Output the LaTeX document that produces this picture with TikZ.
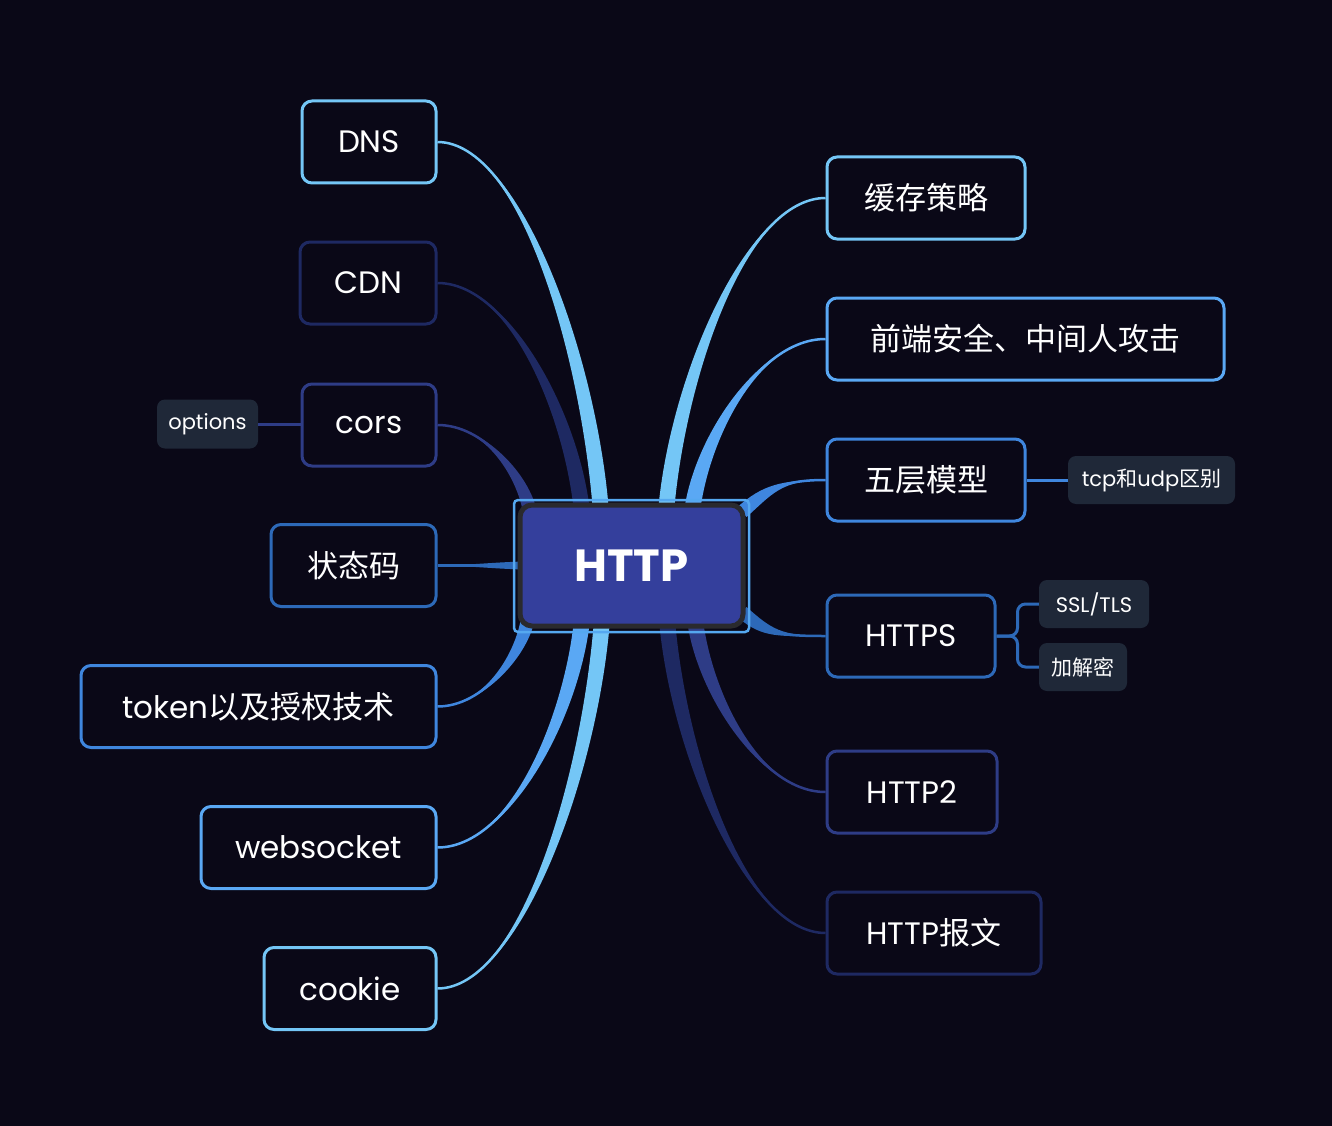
\documentclass[tikz,border=0pt]{standalone}
\usepackage{fontspec}
\setmainfont{Poppins}
\newfontfamily\cjk{Noto Sans CJK SC}
\usetikzlibrary{calc}
\definecolor{bg}{HTML}{0A0817}
\definecolor{cA}{HTML}{74C6F6}
\definecolor{cB}{HTML}{5AA8F4}
\definecolor{cC}{HTML}{3F86DE}
\definecolor{cD}{HTML}{2D69B8}
\definecolor{cE}{HTML}{2E3C86}
\definecolor{cF}{HTML}{1E2962}
\definecolor{subfill}{HTML}{1F2838}
\definecolor{rootfill}{HTML}{343F9C}
\definecolor{rootedge}{HTML}{2A2A2E}
\definecolor{rootframe}{HTML}{55A8F0}
\newcommand\tbranch[6]{%
  \fill[#1] (#2) .. controls ($(#2)+(#3)$) and ($(#4)+(#5)+(#6)$) .. ($(#4)+(#6)$)
    -- ($(#4)-(#6)$) .. controls ($(#4)+(#5)-(#6)$) and ($(#2)+(#3)$) .. (#2) -- cycle;
  \draw[#1,line width=2.5pt] (#2) .. controls +(#3) and +(#5) .. (#4);}
\begin{document}
\begin{tikzpicture}[x=1pt,y=-1pt,
  topic/.style={draw, line width=3pt, rounded corners=10pt, fill=bg, text=white,
    minimum height=82pt, inner sep=0pt, font=\fontsize{31}{36}\selectfont},
  sub/.style={fill=subfill, rounded corners=8pt, text=white, minimum height=48pt,
    inner sep=0pt, font=\fontsize{21}{26}\selectfont},
  subline/.style={line width=3pt}]
\fill[bg] (0,0) rectangle (1332,1126);
\useasboundingbox (0,0) rectangle (1332,1126);

% topics left
\node[topic, draw=cA, minimum width=134pt] (dns) at (369,142) {DNS};
\node[topic, draw=cF, minimum width=136pt] (cdn) at (368,283) {CDN};
\node[topic, draw=cE, minimum width=134pt] (cors) at (369,425) {cors};
\node[topic, draw=cD, minimum width=165pt] (ztm) at (353.5,565.5) {\cjk 状态码};
\node[topic, draw=cC, minimum width=355pt] (token) at (258.5,706.5) {token{\cjk 以及授权技术}};
\node[topic, draw=cB, minimum width=235pt] (ws) at (318.5,847.5) {websocket};
\node[topic, draw=cA, minimum width=172pt] (cookie) at (350,988.5) {cookie};
% topics right
\node[topic, draw=cA, minimum width=198pt] (hc) at (926,198) {\cjk 缓存策略};
\node[topic, draw=cB, minimum width=397pt] (qd) at (1025.5,339) {\cjk 前端安全、中间人攻击};
\node[topic, draw=cC, minimum width=198pt] (wc) at (926,480) {\cjk 五层模型};
\node[topic, draw=cD, minimum width=168pt] (https) at (911,636) {HTTPS};
\node[topic, draw=cE, minimum width=170pt] (h2) at (912,792) {HTTP2};
\node[topic, draw=cF, minimum width=214pt] (hbw) at (934,933) {HTTP{\cjk 报文}};

% branch end points at the root
\coordinate (eDNS) at (601,512);
\coordinate (eCDN) at (582,512);
\coordinate (eCORS) at (530,512);
\coordinate (eZTM) at (530,565.5);
\coordinate (eTOK) at (528,618);
\coordinate (eWS) at (582,620);
\coordinate (eCK) at (602,620);
\coordinate (eHC) at (666,512);
\coordinate (eQD) at (692,512);
\coordinate (eWC) at (742,512);
\coordinate (eHS) at (742,612);
\coordinate (eH2) at (695,620);
\coordinate (eHB) at (667,620);

\tbranch{cA}{dns.east}{83,0}{eDNS}{-12,-155}{8,0}
\tbranch{cF}{cdn.east}{73,0}{eCDN}{-10,-96}{8,0}
\tbranch{cE}{cors.east}{47,0}{eCORS}{-7,-37}{7,0}
\tbranch{cD}{ztm.east}{30,0}{eZTM}{-30,0}{0,4}
\tbranch{cC}{token.east}{46,0}{eTOK}{-6,37}{7,0}
\tbranch{cB}{ws.east}{73,0}{eWS}{-10,96}{8,0}
\tbranch{cA}{cookie.east}{83,0}{eCK}{-12,155}{8,0}
\tbranch{cA}{hc.west}{-80,0}{eHC}{11,-132}{8,0}
\tbranch{cB}{qd.west}{-67,0}{eQD}{9,-73}{8,0}
\tbranch{cC}{wc.west}{-45,0}{eWC}{25,-22}{4.5,5}
\tbranch{cD}{https.west}{-45,0}{eHS}{25,22}{4.5,-5}
\tbranch{cE}{h2.west}{-66,0}{eH2}{9,72}{8,0}
\tbranch{cF}{hbw.west}{-80,0}{eHB}{11,131}{8,0}

% root
\node[draw=rootframe, line width=2.5pt, rounded corners=4pt, minimum width=235pt,
  minimum height=132pt, inner sep=0pt] (root) at (631.5,566) {};
\node[fill=rootfill, draw=rootedge, line width=5pt, rounded corners=12pt,
  minimum width=223pt, minimum height=121pt, inner sep=0pt, text=white,
  font=\fontsize{45}{50}\selectfont\bfseries] (rootin) at (631.5,565.5) {HTTP};

% subtopics
\node[sub, minimum width=101pt, minimum height=49pt] (opt) at (207.5,424) {options};
\node[sub, minimum width=167pt] (tcp) at (1151.5,480) {tcp{\cjk 和}udp{\cjk 区别}};
\node[sub, minimum width=110pt] (ssl) at (1094,604) {SSL/TLS};
\node[sub, minimum width=88pt] (jjm) at (1083,667) {\cjk 加解密};

\draw[subline, cE] (opt.east) -- (opt.east -| cors.west);
\draw[subline, cC] (wc.east) -- (tcp.west);
\draw[subline, cD, rounded corners=8pt] (https.east) -- ++(21,0) |- (ssl.west);
\draw[subline, cD, rounded corners=8pt] (https.east) -- ++(21,0) |- (jjm.west);
\end{tikzpicture}
\end{document}
